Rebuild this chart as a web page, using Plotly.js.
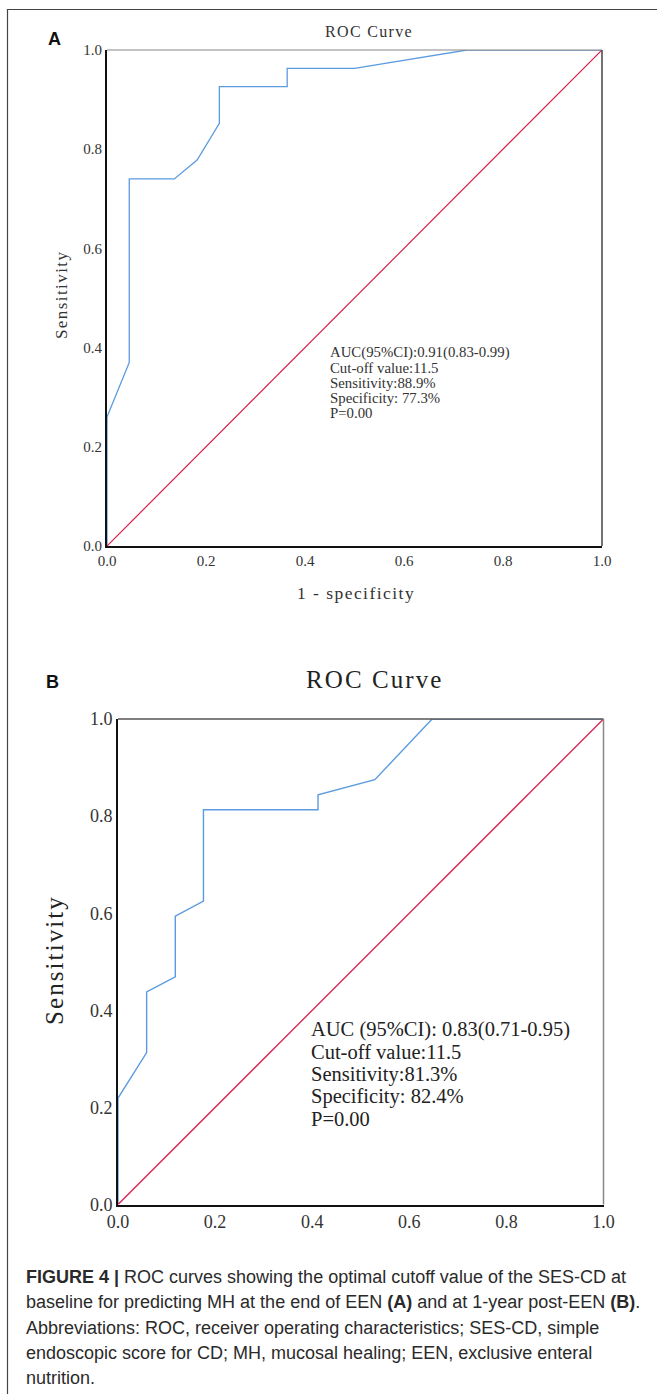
<!DOCTYPE html>
<html><head><meta charset="utf-8">
<script src="https://cdn.plot.ly/plotly-3.0.1.min.js"></script>
<style>html,body{margin:0;padding:0;background:#fff}#chart{width:657px;height:1394px}</style>
</head><body><div id="chart"></div>
<script>
// Panel A data (1 - specificity vs sensitivity)
const rocA_x = [0, 0, 0.045, 0.045, 0.136, 0.182, 0.227, 0.227, 0.364, 0.364, 0.5, 0.727, 1];
const rocA_y = [0, 0.26, 0.37, 0.74, 0.74, 0.778, 0.852, 0.926, 0.926, 0.963, 0.963, 1, 1];
// Panel B data
const rocB_x = [0, 0, 0.059, 0.059, 0.118, 0.118, 0.176, 0.176, 0.412, 0.412, 0.529, 0.647, 1];
const rocB_y = [0, 0.219, 0.313, 0.438, 0.469, 0.594, 0.625, 0.813, 0.813, 0.844, 0.875, 1, 1];
const refLine = [0, 1];
const tickVals = [0, 0.2, 0.4, 0.6, 0.8, 1.0];
const tickText = ["0.0", "0.2", "0.4", "0.6", "0.8", "1.0"];
const statsA = ["AUC(95%CI):0.91(0.83-0.99)", "Cut-off value:11.5", "Sensitivity:88.9%", "Specificity: 77.3%", "P=0.00"];
const statsB = ["AUC (95%CI): 0.83(0.71-0.95)", "Cut-off value:11.5", "Sensitivity:81.3%", "Specificity: 82.4%", "P=0.00"];
const captionLines = [
  "<b>FIGURE 4 |</b> ROC curves showing the optimal cutoff value of the SES-CD at",
  "baseline for predicting MH at the end of EEN <b>(A)</b> and at 1-year post-EEN <b>(B)</b>.",
  "Abbreviations: ROC, receiver operating characteristics; SES-CD, simple",
  "endoscopic score for CD; MH, mucosal healing; EEN, exclusive enteral",
  "nutrition."
];

const W = 657, H = 1394;
const px = v => v / W, py = v => 1 - v / H;
const serif = "Liberation Serif, Times New Roman, serif";
const sans = "Liberation Sans, Arial, sans-serif";
const blue = "#5b9bdf", red = "#d81f4a";
const hs = s => s.split('').join('&#8202;');

const traces = [
  {x: rocA_x, y: rocA_y, xaxis: 'x', yaxis: 'y', mode: 'lines', line: {color: blue, width: 1.3}, cliponaxis: false, hoverinfo: 'skip'},
  {x: refLine, y: refLine, xaxis: 'x', yaxis: 'y', mode: 'lines', line: {color: red, width: 1.2}, cliponaxis: false, hoverinfo: 'skip'},
  {x: rocB_x, y: rocB_y, xaxis: 'x2', yaxis: 'y2', mode: 'lines', line: {color: blue, width: 1.4}, cliponaxis: false, hoverinfo: 'skip'},
  {x: refLine, y: refLine, xaxis: 'x2', yaxis: 'y2', mode: 'lines', line: {color: red, width: 1.3}, cliponaxis: false, hoverinfo: 'skip'}
];

function ax(domain, anchor, fs) {
  return {
    domain: domain, anchor: anchor, range: [0, 1], showgrid: false, zeroline: false,
    showline: true, linecolor: '#111', linewidth: 2, ticks: '', tickvals: tickVals, ticktext: tickText,
    tickfont: {family: serif, size: fs, color: '#333'}, fixedrange: true
  };
}

const annotations = [];
const ann = (text, x, y, size, fam, color, extra) => annotations.push(Object.assign({
  text: text, x: px(x), y: py(y), xref: 'paper', yref: 'paper', showarrow: false,
  xanchor: 'center', yanchor: 'middle', borderpad: 0,
  font: {family: fam, size: size, color: color}
}, extra || {}));
// Panel labels
ann('<b>A</b>', 54, 39, 18, sans, '#111');
ann('<b>B</b>', 52, 682, 18, sans, '#111');
// Titles
ann(hs('ROC Curve'), 368.5, 32, 16, serif, '#333');
ann(hs('ROC Curve'), 373, 679, 25, serif, '#222');
// Axis titles
ann(hs('Sensitivity'), 61, 296, 17, serif, '#333', {textangle: -90});
ann(hs('1 - specificity'), 355, 593, 17.5, serif, '#333');
ann(hs('Sensitivity'), 55, 961, 25, serif, '#222', {textangle: -90});
// Stats
statsA.forEach((t, i) => ann(t, 329, 352.7 + i * 15, 14.8, serif, '#333', {xanchor: 'left'}));
statsB.forEach((t, i) => ann(t, 310, 1029 + i * 22.5, 20.5, serif, '#222', {xanchor: 'left'}));
// Caption
captionLines.forEach((t, i) => ann(t, 25, 1277 + i * 25.3, 18, sans, '#2a2a2a', {xanchor: 'left'}));

const shapes = [
  // outer figure frame (left and top)
  {type: 'line', xref: 'paper', yref: 'paper', x0: px(7.5), x1: px(7.5), y0: py(9), y1: 0, line: {color: '#444', width: 1.2}},
  {type: 'line', xref: 'paper', yref: 'paper', x0: px(7), x1: 1, y0: py(9.5), y1: py(9.5), line: {color: '#444', width: 1.2}},
  // top / right plot borders
  {type: 'line', xref: 'x domain', yref: 'y domain', x0: 0, x1: 1, y0: 1, y1: 1, line: {color: '#888', width: 1.2}},
  {type: 'line', xref: 'x domain', yref: 'y domain', x0: 1, x1: 1, y0: 0, y1: 1, line: {color: '#444', width: 1.5}},
  {type: 'line', xref: 'x2 domain', yref: 'y2 domain', x0: 0, x1: 1, y0: 1, y1: 1, line: {color: '#555', width: 1.3}},
  {type: 'line', xref: 'x2 domain', yref: 'y2 domain', x0: 1, x1: 1, y0: 0, y1: 1, line: {color: '#888', width: 1.5}}
];

const layout = {
  width: W, height: H, margin: {l: 0, r: 0, t: 0, b: 0}, showlegend: false,
  paper_bgcolor: '#fff', plot_bgcolor: '#fff',
  xaxis: ax([px(107), px(602)], 'y', 15),
  yaxis: ax([py(546), py(50)], 'x', 15),
  xaxis2: ax([px(118), px(603.5)], 'y2', 18),
  yaxis2: ax([py(1204.5), py(719)], 'x2', 18),
  annotations: annotations, shapes: shapes
};

Plotly.newPlot('chart', traces, layout, {staticPlot: true});
</script></body></html>
